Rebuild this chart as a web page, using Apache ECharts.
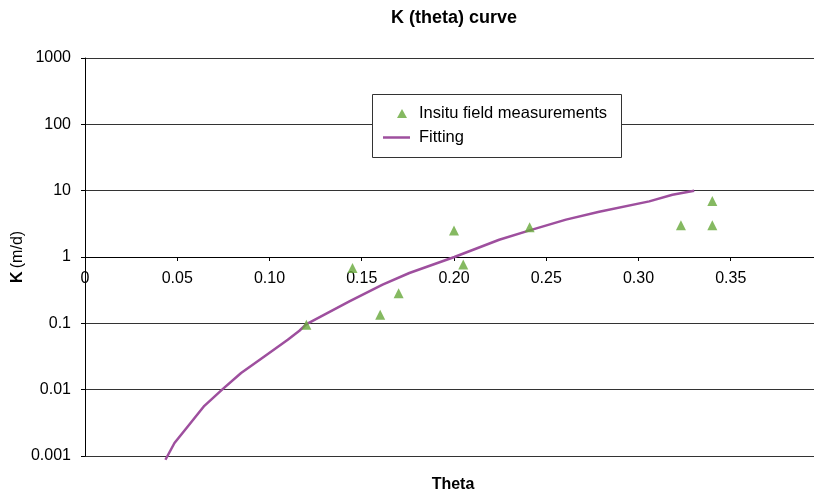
<!DOCTYPE html>
<html>
<head>
<meta charset="utf-8">
<script src="https://cdn.jsdelivr.net/npm/echarts@6/dist/echarts.min.js"></script>
<style>html,body{margin:0;padding:0;background:#fff;}#c{width:814px;height:499px;}</style>
</head>
<body>
<div id="c"></div>
<script>
// Measurements
const measTheta = [0.120, 0.145, 0.160, 0.170, 0.200, 0.205, 0.241, 0.323, 0.340, 0.340];
const measK     = [0.095, 0.68, 0.135, 0.285, 2.5, 0.77, 2.8, 3.0, 3.0, 7.0];
// Fitting curve
const fitTheta = [0.0436, 0.0485, 0.0557, 0.0647, 0.0746, 0.0846, 0.0972, 0.1099, 0.1162, 0.1198, 0.1433, 0.1613, 0.1758, 0.2002, 0.2245, 0.241, 0.2607, 0.2787, 0.3058, 0.3184, 0.3302];
const fitK     = [0.000877, 0.00157, 0.00279, 0.00571, 0.0102, 0.0178, 0.0317, 0.0566, 0.0773, 0.0964, 0.214, 0.382, 0.574, 1.0, 1.82, 2.52, 3.66, 4.8, 6.9, 8.7, 10.0];
// Axis labels
const yTickLabels = {'-3':'0.001','-2':'0.01','-1':'0.1','0':'1','1':'10','2':'100','3':'1000'};

const FONT = 'Liberation Sans, Arial, sans-serif';
const chart = echarts.init(document.getElementById('c'), null, {renderer:'canvas'});
chart.setOption({
  animation: false,
  backgroundColor: '#fff',
  textStyle: {fontFamily: FONT},
  title: [
    {text: 'K (theta) curve', left: 454, top: 9, textAlign: 'center', padding: 0,
     textStyle: {fontSize: 18, fontWeight: 'bold', color: '#000', fontFamily: FONT}},
    {text: 'Theta', left: 453, top: 477, textAlign: 'center', padding: 0,
     textStyle: {fontSize: 16, fontWeight: 'bold', color: '#000', fontFamily: FONT}}
  ],
  grid: {left: 85, top: 58, width: 738, height: 398, containLabel: false, outerBoundsMode: 'none'},
  graphic: [{
    type: 'rect', z: 3, silent: true,
    shape: {x: 372.5, y: 94.5, width: 249, height: 63},
    style: {fill: '#fff', stroke: '#333', lineWidth: 1}
  }],
  legend: [
    {
      left: 397, top: 104.5, padding: 0, z: 5,
      icon: 'triangle', itemWidth: 10, itemHeight: 9,
      formatter: n => '{s| }' + n,
      textStyle: {fontSize: 16.5, color: '#000', lineHeight: 18, fontFamily: FONT,
                  rich: {s: {width: 7, fontSize: 16.5}}},
      data: ['Insitu field measurements']
    },
    {
      left: 383, top: 128.5, padding: 0, z: 5,
      icon: 'rect', itemWidth: 27, itemHeight: 2.5,
      formatter: n => '{s| }' + n,
      textStyle: {fontSize: 16.5, color: '#000', lineHeight: 18, fontFamily: FONT,
                  rich: {s: {width: 4, fontSize: 16.5}}},
      data: ['Fitting']
    }
  ],
  xAxis: {
    type: 'value', min: 0, max: 0.4, interval: 0.05,
    position: 'bottom', offset: -199,
    axisLine: {show: true, onZero: false, lineStyle: {color: '#000', width: 1}},
    axisTick: {show: true, length: 4, lineStyle: {color: '#000'}},
    splitLine: {show: false},
    axisLabel: {fontSize: 16, color: '#000', margin: 14, fontFamily: FONT, showMaxLabel: false,
      formatter: v => v === 0 ? '0' : (v > 0.39 ? '' : v.toFixed(2))}
  },
  yAxis: {
    type: 'log', logBase: 10, min: 0.001, max: 1000,
    name: '{b|K} {n|(m/d)}', nameLocation: 'middle', nameRotate: 90, nameGap: 59,
    nameMoveOverlap: false,
    nameTextStyle: {rich: {b: {fontWeight: 'bold', fontSize: 16, color: '#000', fontFamily: FONT},
                           n: {fontSize: 16, color: '#000', fontFamily: FONT}}},
    axisLine: {show: true, lineStyle: {color: '#000', width: 1}},
    axisTick: {show: true, length: 4, lineStyle: {color: '#000'}},
    splitLine: {show: true, lineStyle: {color: '#333', width: 1}},
    axisLabel: {fontSize: 16, color: '#000', margin: 14, fontFamily: FONT,
      formatter: v => { const e = Math.round(Math.log10(v)); return yTickLabels[String(e)] || String(v); }}
  },
  series: [
    {
      name: 'Fitting', type: 'line', symbol: 'none', smooth: false, clip: false,
      lineStyle: {color: '#9E4F9E', width: 2.5, join: 'round'}, itemStyle: {color: '#9E4F9E'},
      data: fitTheta.map((t, i) => [t, fitK[i]]), z: 2
    },
    {
      name: 'Insitu field measurements', type: 'scatter', symbol: 'triangle', symbolSize: 10,
      itemStyle: {color: '#66A83A'},
      data: measTheta.map((t, i) => [t, measK[i]]), z: 2
    }
  ]
});
</script>
</body>
</html>
